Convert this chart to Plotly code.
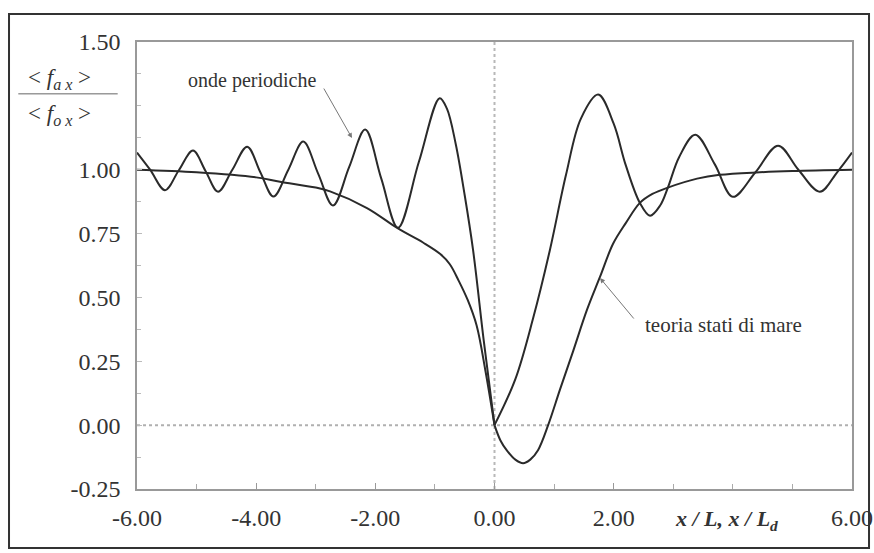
import plotly.graph_objects as go

# "onde periodiche" (periodic waves) curve
osc_x = [-6.0, -5.78, -5.53, -5.30, -5.06, -4.85, -4.64, -4.40, -4.15, -3.93,
         -3.71, -3.46, -3.21, -2.96, -2.71, -2.44, -2.17, -1.90, -1.62, -1.27,
         -0.92, -0.80, -0.65, -0.50, -0.36, -0.18, 0.0,
         0.35, 0.65, 0.93, 1.20, 1.45, 1.74, 2.00, 2.20, 2.44, 2.61, 2.78,
         2.91, 3.10, 3.37, 3.70, 4.00, 4.38, 4.76, 5.10, 5.46, 5.75, 6.0]
osc_y = [1.067, 1.0, 0.92, 0.997, 1.075, 0.995, 0.914, 1.0, 1.09, 0.99,
         0.895, 1.0, 1.11, 0.985, 0.86, 1.01, 1.157, 0.965, 0.773, 1.03,
         1.28, 1.24, 1.10, 0.90, 0.686, 0.33, 0.0,
         0.18, 0.42, 0.686, 0.98, 1.20, 1.294, 1.18, 1.02, 0.87, 0.82, 0.86,
         0.93, 1.05, 1.137, 1.02, 0.894, 0.99, 1.094, 1.0, 0.914, 0.99, 1.067]

# "teoria stati di mare" (sea-state theory) curve
sea_x = [-6.0, -5.0, -4.0, -3.6, -3.0, -2.76, -2.14, -1.62, -1.2, -0.91,
         -0.75, -0.6, -0.45, -0.3, -0.15, 0.0,
         0.1, 0.21, 0.35, 0.48, 0.6, 0.73, 0.9, 1.1, 1.32, 1.55, 1.77, 1.99,
         2.2, 2.44, 2.65, 2.91, 3.4, 3.78, 4.45, 5.0, 6.0]
sea_y = [1.0, 0.99, 0.97, 0.953, 0.93, 0.915, 0.85, 0.77, 0.715, 0.67,
         0.63, 0.565, 0.49, 0.39, 0.21, 0.0,
         -0.06, -0.10, -0.135, -0.149, -0.135, -0.098, 0.0, 0.14, 0.29, 0.45, 0.58, 0.71,
         0.79, 0.87, 0.905, 0.93, 0.965, 0.98, 0.99, 0.995, 1.0]

# labelled ticks (4.00 and 1.25 are left out: axis titles sit there)
x_tick_vals = [-6, -4, -2, 0, 2, 6]
x_tick_text = ["-6.00", "-4.00", "-2.00", "0.00", "2.00", "6.00"]
y_tick_vals = [-0.25, 0.0, 0.25, 0.5, 0.75, 1.0, 1.5]
y_tick_text = ["-0.25", "0.00", "0.25", "0.50", "0.75", "1.00", "1.50"]

FONT = "Liberation Serif"
LINE = "#2a2a2a"
TXT = "#333"

fig = go.Figure()


def add_split(xs, ys):
    i0 = xs.index(0.0)
    for seg_x, seg_y in ((xs[:i0 + 1], ys[:i0 + 1]), (xs[i0:], ys[i0:])):
        fig.add_trace(go.Scatter(x=seg_x, y=seg_y, mode="lines",
                                 line=dict(color=LINE, width=2, shape="spline", smoothing=1.0),
                                 showlegend=False, hoverinfo="skip"))


add_split(osc_x, osc_y)
add_split(sea_x, sea_y)

shapes = [
    dict(type="line", xref="x", yref="y", x0=-6, x1=6, y0=0, y1=0,
         line=dict(color="#b0b0b0", width=2, dash="dot"), layer="below"),
    dict(type="line", xref="x", yref="y", x0=0, x1=0, y0=-0.25, y1=1.5,
         line=dict(color="#b8b8b8", width=2, dash="dot"), layer="below"),
    # fraction bar of the y label
    dict(type="line", xref="paper", yref="paper", x0=-0.166, x1=-0.027, y0=0.884, y1=0.884,
         line=dict(color="#666", width=1)),
    # outer frame
    dict(type="rect", xref="paper", yref="paper", x0=-0.179, x1=1.0238, y0=-0.132, y1=1.0626,
         line=dict(color="#333", width=2)),
]

annotations = [
    dict(xref="paper", yref="paper", x=-0.1077, y=0.917, xanchor="center", yanchor="middle",
         showarrow=False, text="&lt; <i>f</i><sub><i>a x</i></sub> &gt;",
         font=dict(family=FONT, size=23, color=TXT)),
    dict(xref="paper", yref="paper", x=-0.1077, y=0.837, xanchor="center", yanchor="middle",
         showarrow=False, text="&lt; <i>f</i><sub><i>o x</i></sub> &gt;",
         font=dict(family=FONT, size=23, color=TXT)),
    dict(xref="paper", yref="paper", x=0.824, y=-0.07, xanchor="center", yanchor="middle",
         showarrow=False, text="<b><i>x / L, x / L</i></b><sub><b><i>d</i></b></sub>",
         font=dict(family=FONT, size=22, color=TXT)),
    dict(x=-4.07, y=1.351, xanchor="center", yanchor="middle", showarrow=False,
         text="onde periodiche", font=dict(family=FONT, size=20, color=TXT)),
    dict(x=-2.392, y=1.124, ax=-29, ay=-51, text="", showarrow=True,
         arrowhead=2, arrowsize=1, arrowwidth=1, arrowcolor="#777"),
    dict(x=3.835, y=0.392, xanchor="center", yanchor="middle", showarrow=False,
         text="teoria stati di mare", font=dict(family=FONT, size=21, color=TXT)),
    dict(x=1.771, y=0.576, ax=35, ay=42, text="", showarrow=True,
         arrowhead=2, arrowsize=1, arrowwidth=1, arrowcolor="#777"),
]

fig.update_layout(
    width=874, height=553,
    margin=dict(l=137, r=22, t=42, b=64, autoexpand=False),
    paper_bgcolor="white", plot_bgcolor="white",
    font=dict(family=FONT, size=24, color=TXT),
    shapes=shapes, annotations=annotations,
    xaxis=dict(range=[-6, 6], tickvals=x_tick_vals, ticktext=x_tick_text,
               ticks="inside", ticklen=6, tickcolor="#999", showgrid=False, zeroline=False,
               showline=True, linecolor="#999", linewidth=1.5, mirror=True,
               minor=dict(dtick=1, tick0=0, ticks="inside", ticklen=5, tickcolor="#aaa",
                          showgrid=False),
               ticklabelstandoff=6, automargin=False),
    yaxis=dict(range=[-0.25, 1.5], tickvals=y_tick_vals, ticktext=y_tick_text,
               ticks="inside", ticklen=5, tickcolor="#bbb", showgrid=False, zeroline=False,
               showline=True, linecolor="#999", linewidth=1.5, mirror=True,
               minor=dict(dtick=0.125, tick0=0, ticks="inside", ticklen=4, tickcolor="#bbb",
                          showgrid=False),
               ticklabelstandoff=10, automargin=False),
)

# remove the default page margin so the 874x553 figure fills the window exactly
fig.write_html(
    "out.html",
    config={"displayModeBar": False},
    post_script="document.body.style.margin='0';document.body.style.overflow='hidden';",
)
